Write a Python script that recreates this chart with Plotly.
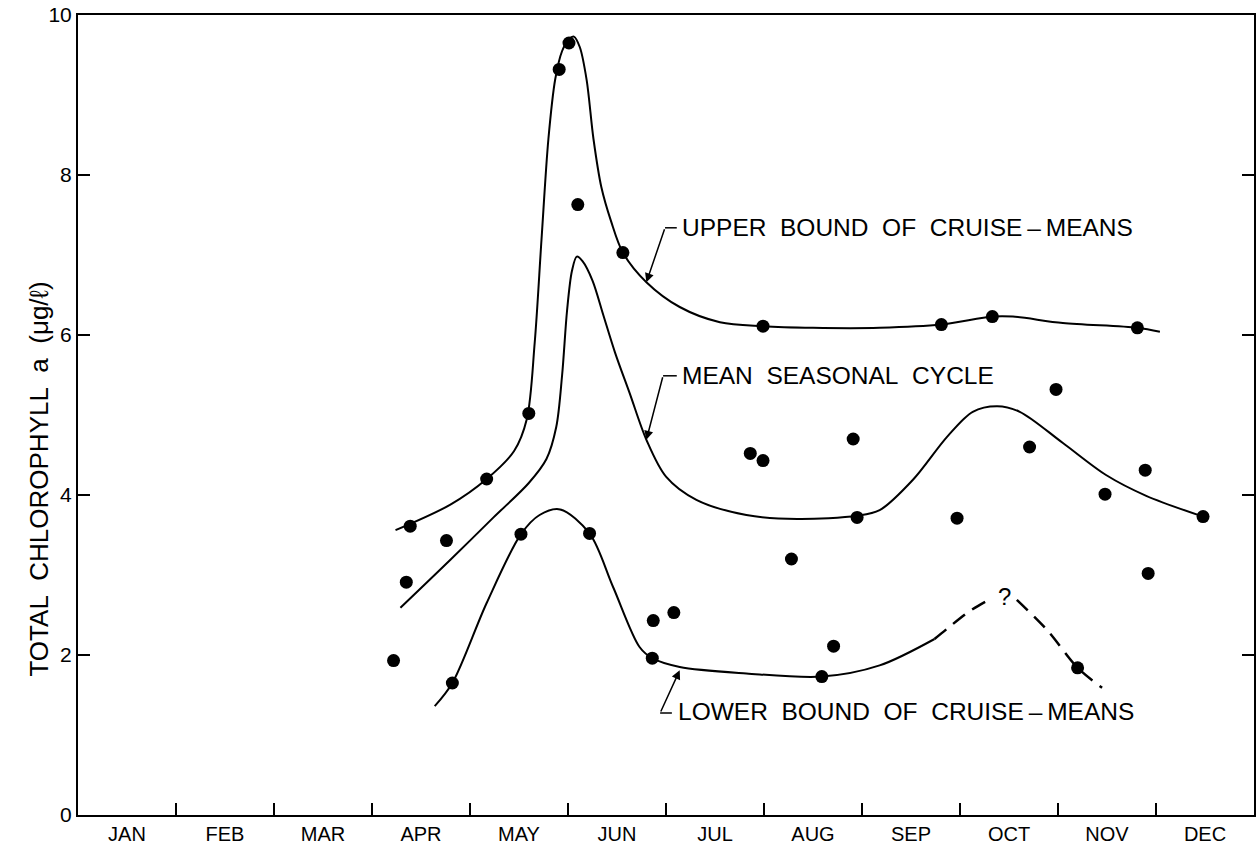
import plotly.graph_objects as go

# months on x: 0 = start of JAN, 12 = end of DEC
month_labels = ["JAN", "FEB", "MAR", "APR", "MAY", "JUN",
                "JUL", "AUG", "SEP", "OCT", "NOV", "DEC"]
month_centers = [i + 0.5 for i in range(12)]
month_edges = list(range(1, 12))

obs_t = [3.22, 3.35, 3.39, 3.76, 3.82, 4.17, 4.52, 4.60, 4.91, 5.01, 5.10, 5.22,
         5.56, 5.86, 5.87, 6.08, 6.86, 6.99, 6.99, 7.28, 7.59, 7.71, 7.91, 7.95,
         8.81, 8.97, 9.33, 9.71, 9.98, 10.20, 10.48, 10.81, 10.89, 10.92, 11.48]
obs_chl = [1.93, 2.91, 3.61, 3.43, 1.65, 4.20, 3.51, 5.02, 9.32, 9.65, 7.63, 3.52,
           7.03, 1.96, 2.43, 2.53, 4.52, 4.43, 6.11, 3.20, 1.73, 2.11, 4.70, 3.72,
           6.13, 3.71, 6.23, 4.60, 5.32, 1.84, 4.01, 6.09, 4.31, 3.02, 3.73]

# upper bound of cruise-means
upper_t = [3.24, 3.80, 4.17, 4.45, 4.58, 4.66, 4.73, 4.80, 4.87, 4.94, 5.01,
           5.06, 5.12, 5.19, 5.26, 5.34, 5.44, 5.56, 5.80, 6.14, 6.55, 6.99, 7.50,
           8.18, 8.81, 9.33, 9.54, 10.05, 10.81, 11.04]
upper_chl = [3.56, 3.88, 4.20, 4.55, 4.95, 5.90, 7.20, 8.45, 9.20, 9.55, 9.70,
             9.73, 9.60, 9.19, 8.45, 7.85, 7.42, 7.03, 6.66, 6.35, 6.16, 6.11, 6.09,
             6.09, 6.13, 6.23, 6.23, 6.15, 6.09, 6.04]

# mean seasonal cycle
mean_t = [3.29, 3.80, 4.24, 4.60, 4.78, 4.88, 4.94, 4.99, 5.04, 5.09, 5.15, 5.25,
          5.36, 5.48, 5.63, 5.80, 6.00, 6.31, 6.82, 7.34, 7.95, 8.18, 8.52, 8.87,
          9.13, 9.38, 9.61, 10.05, 10.49, 10.90, 11.48]
mean_chl = [2.59, 3.19, 3.72, 4.15, 4.45, 4.85, 5.50, 6.30, 6.80, 6.98, 6.92, 6.68,
            6.25, 5.78, 5.27, 4.69, 4.23, 3.94, 3.75, 3.70, 3.74, 3.81, 4.19, 4.73,
            5.04, 5.11, 5.04, 4.65, 4.25, 3.99, 3.73]

# lower bound of cruise-means (solid part)
lower_t = [3.64, 3.82, 4.17, 4.52, 4.71, 4.92, 5.22, 5.46, 5.73, 5.86, 6.14, 6.82,
           7.59, 8.18, 8.74]
lower_chl = [1.36, 1.65, 2.65, 3.51, 3.75, 3.82, 3.52, 2.85, 2.10, 1.96, 1.85, 1.77,
             1.73, 1.87, 2.20]

# lower bound, uncertain (dashed) part, split around the "?"
dash1_t = [8.74, 8.87, 9.10, 9.31]
dash1_chl = [2.20, 2.33, 2.55, 2.70]
dash2_t = [9.58, 9.89, 10.20, 10.45]
dash2_chl = [2.69, 2.31, 1.84, 1.59]

font = "Liberation Sans, Arial, Helvetica, sans-serif"

fig = go.Figure()

line = dict(color="black", width=2, shape="spline", smoothing=0.9)
fig.add_trace(go.Scatter(x=upper_t, y=upper_chl, mode="lines", line=line))
fig.add_trace(go.Scatter(x=mean_t, y=mean_chl, mode="lines", line=line))
fig.add_trace(go.Scatter(x=lower_t, y=lower_chl, mode="lines", line=line))
dline = dict(line, dash="15px,9px", width=2.5)
fig.add_trace(go.Scatter(x=dash1_t, y=dash1_chl, mode="lines", line=dline))
fig.add_trace(go.Scatter(x=dash2_t, y=dash2_chl, mode="lines", line=dline))

fig.add_trace(go.Scatter(x=obs_t, y=obs_chl, mode="markers",
                         marker=dict(color="black", size=13)))

sp = "\u00a0\u00a0"
labels = [
    # text, x, y, leader corner (x, y), leader end x, arrow tip (x, y)
    ("UPPER" + sp + "BOUND" + sp + "OF" + sp + "CRUISE\u2009\u2013\u2009MEANS",
     6.14, 7.34, (5.99, 7.34), 6.11, (5.80, 6.66)),
    ("MEAN" + sp + "SEASONAL" + sp + "CYCLE",
     6.14, 5.49, (5.97, 5.49), 6.11, (5.80, 4.69)),
    ("LOWER" + sp + "BOUND" + sp + "OF" + sp + "CRUISE\u2009\u2013\u2009MEANS",
     6.10, 1.29, (5.94, 1.275), 6.06, (6.14, 1.81)),
]
for text, tx, ty, corner, endx, tip in labels:
    fig.add_annotation(x=tx, y=ty, text=text, showarrow=False, xanchor="left",
                       font=dict(family=font, size=24.5, color="black"))
    fig.add_shape(type="line", x0=corner[0], y0=corner[1], x1=endx, y1=corner[1],
                  line=dict(color="black", width=1.5))
    fig.add_annotation(x=tip[0], y=tip[1], ax=corner[0], ay=corner[1],
                       axref="x", ayref="y", text="", showarrow=True,
                       arrowhead=2, arrowsize=1.2, arrowwidth=1.5, arrowcolor="black")

fig.add_annotation(x=9.45, y=2.73, text="?", showarrow=False,
                   font=dict(family=font, size=24, color="black"))

fig.add_annotation(x=-0.048, y=0.42, xref="paper", yref="paper",
                   text="TOTAL" + sp + "CHLOROPHYLL" + sp + "a" + sp + "(\u03bcg/\u2113)",
                   textangle=-90, showarrow=False,
                   font=dict(family=font, size=26, color="black"))

fig.update_layout(
    width=1259, height=846,
    margin=dict(l=78, r=5, t=15, b=31),
    paper_bgcolor="white", plot_bgcolor="white",
    showlegend=False,
    font=dict(family=font, size=20, color="black"),
)
fig.update_xaxes(
    range=[0, 12], tickvals=month_centers, ticktext=month_labels,
    ticks="", showgrid=False, zeroline=False, automargin=False,
    showline=True, linecolor="black", linewidth=2, mirror=True,
    tickfont=dict(size=20),
    minor=dict(tickvals=month_edges, ticks="inside", ticklen=12,
               tickwidth=1.5, tickcolor="black", showgrid=False),
)
fig.update_yaxes(
    range=[0, 10], tickvals=[0, 2, 4, 6, 8, 10], ticks="inside", ticklen=12,
    tickwidth=1.5, tickcolor="black", showgrid=False, zeroline=False,
    showline=True, linecolor="black", linewidth=2, mirror="ticks",
    automargin=False, tickfont=dict(size=21),
)

# drop the page's default body margin so the figure fills the window exactly
fig.write_html("out.html", config={"displayModeBar": False},
               post_script="document.body.style.margin='0';")
